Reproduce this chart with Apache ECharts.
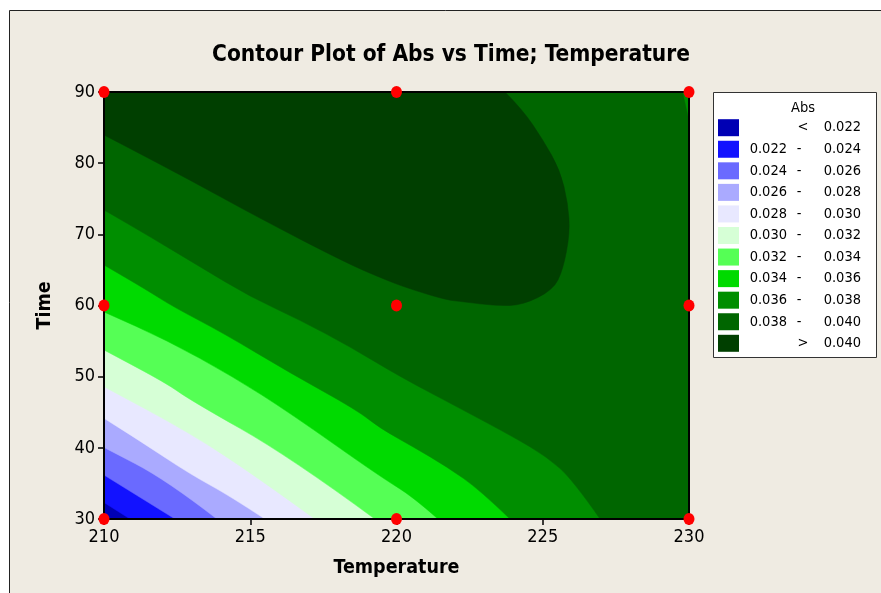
<!DOCTYPE html>
<html>
<head>
<meta charset="utf-8">
<script src="https://cdn.jsdelivr.net/npm/echarts@6/dist/echarts.min.js"></script>
<style>
  html, body { margin: 0; padding: 0; background: #ffffff; }
  #chart { width: 881px; height: 593px; }
</style>
</head>
<body>
<div id="chart"></div>
<script>
// Design points of the experiment (Temperature, Time)
const designTemperature = [210, 210, 210, 220, 220, 220, 230, 230, 230];
const designTime = [30, 60, 90, 30, 60, 90, 30, 60, 90];

// Contour levels of Abs and the fill colour of each band (lowest first)
const levels = [0.022, 0.024, 0.026, 0.028, 0.030, 0.032, 0.034, 0.036, 0.038, 0.040];
const bandColors = ['#0000B4', '#1212FF', '#6A6AFF', '#AAAAFF', '#E8E8FF', '#D6FFD6',
                    '#55FF55', '#00DA00', '#008E00', '#006600', '#003F00'];

// Contour lines, [Temperature, Time], running from the left edge to the bottom edge
const contour022 = [[210, 32.32], [210.89, 30]];
const contour024 = [[210, 36.18], [212.43, 30]];
const contour026 = [[210, 40.06], [212.14, 35.48], [213.86, 30]];
const contour028 = [[210, 44.15], [211.23, 40.96], [212.94, 36.32], [214.31, 33.23], [215.50, 30]];
const contour030 = [[210, 48.59], [212.94, 42.08], [215.22, 35.94], [217.21, 30]];
const contour032 = [[210, 53.75], [212.14, 49.07], [212.94, 46.72], [216.36, 38.75], [219.26, 30]];
const contour034 = [[210, 59.09], [212.14, 55.15], [214.41, 50.00], [216.36, 44.89],
                    [219.44, 35.95], [220.56, 33.14], [221.42, 30]];
const contour036 = [[210, 65.69], [211.46, 62.18], [212.36, 59.83], [214.07, 56.14], [216.36, 50.52],
                    [218.64, 45.32], [219.44, 42.74], [220.56, 40.16], [221.72, 37.35],
                    [222.85, 34.08], [223.88, 30]];
const contour038 = [[210, 73.42], [211.57, 69.67], [213.28, 65.45], [214.99, 61.24], [216.70, 57.96],
                    [218.41, 54.21], [220.12, 49.99], [222.27, 45.32], [223.98, 41.56],
                    [225.14, 38.75], [226.03, 35.48], [226.96, 30]];
// 0.038 line again cutting the top-right corner (right edge to top edge)
const contour038Corner = [[230, 85.93], [229.78, 90]];
// 0.040 line: from the left edge round the ridge to the top edge
const contour040 = [[210, 83.96], [210.66, 82.55], [212.94, 77.63], [215.22, 72.48], [218.30, 65.93],
                    [219.78, 63.34], [220.57, 62.18], [221.72, 60.77], [222.27, 60.53], [223.43, 59.93],
                    [224.32, 60.07], [225.35, 62.18], [225.69, 64.99], [225.93, 70.19], [225.86, 74.40],
                    [225.59, 79.04], [225.01, 83.26], [224.32, 87.47], [223.71, 90]];

// Corners of the plotted domain
const tMin = 210, tMax = 230, timeMin = 30, timeMax = 90;

// Each region where Abs exceeds a level: a smoothed contour part, then straight edge parts
const upperSide = [[tMax, timeMin], [tMax, timeMax], [tMin, timeMax]];
const regions = [
  { curve: [[tMin, timeMin]], edges: [[tMax, timeMin], [tMax, timeMax], [tMin, timeMax]] },
  { curve: contour022, edges: upperSide },
  { curve: contour024, edges: upperSide },
  { curve: contour026, edges: upperSide },
  { curve: contour028, edges: upperSide },
  { curve: contour030, edges: upperSide },
  { curve: contour032, edges: upperSide },
  { curve: contour034, edges: upperSide },
  { curve: contour036, edges: upperSide },
  { curve: contour038, edges: [[tMax, timeMin]].concat(contour038Corner, [[tMin, timeMax]]) },
  { curve: contour040, edges: [[tMin, timeMax]] }
];

// Quadratic smoothing through the midpoints of a polyline, endpoints kept exact
function smoothPath(pts) {
  let d = 'M' + pts[0][0] + ' ' + pts[0][1];
  if (pts.length === 1) return d;
  if (pts.length === 2) return d + 'L' + pts[1][0] + ' ' + pts[1][1];
  const mid = (a, b) => [(a[0] + b[0]) / 2, (a[1] + b[1]) / 2];
  let m = mid(pts[0], pts[1]);
  d += 'L' + m[0] + ' ' + m[1];
  for (let i = 1; i < pts.length - 1; i++) {
    const n = (i === pts.length - 2) ? pts[i + 1] : mid(pts[i], pts[i + 1]);
    d += 'Q' + pts[i][0] + ' ' + pts[i][1] + ' ' + n[0] + ' ' + n[1];
  }
  return d;
}

const FONT = "'DejaVu Sans Condensed', 'DejaVu Sans', sans-serif";

// Legend labels built from the level list
function fmt(v) { return v.toFixed(3); }
const legendRows = bandColors.map((c, k) => {
  if (k === 0) return { color: c, lo: '', sep: '<', hi: fmt(levels[0]) };
  if (k === bandColors.length - 1) return { color: c, lo: '', sep: '>', hi: fmt(levels[levels.length - 1]) };
  return { color: c, lo: fmt(levels[k - 1]), sep: '-', hi: fmt(levels[k]) };
});

const legendFont = '14.5px ' + FONT;
const legendChildren = [
  { type: 'rect', shape: { x: 713.5, y: 92.5, width: 163, height: 265 },
    style: { fill: '#ffffff', stroke: '#333333', lineWidth: 1 } },
  { type: 'text', style: { x: 803, y: 108, text: 'Abs', font: legendFont, fill: '#000',
    align: 'center', verticalAlign: 'middle' } }
];
legendRows.forEach((r, i) => {
  const cy = 127.7 + i * 21.56;
  legendChildren.push({ type: 'rect', shape: { x: 718, y: cy - 8.5, width: 21, height: 17 },
    style: { fill: r.color } });
  if (r.lo) legendChildren.push({ type: 'text', style: { x: 787, y: cy, text: r.lo,
    font: legendFont, fill: '#000', align: 'right', verticalAlign: 'middle' } });
  legendChildren.push({ type: 'text', style: { x: r.lo ? 799 : 803, y: cy, text: r.sep,
    font: legendFont, fill: '#000', align: 'center', verticalAlign: 'middle' } });
  legendChildren.push({ type: 'text', style: { x: 861, y: cy, text: r.hi,
    font: legendFont, fill: '#000', align: 'right', verticalAlign: 'middle' } });
});

const axisLineStyle = { color: '#000', width: 2 };
const labelStyle = { fontSize: 18, color: '#000', fontFamily: FONT };
const nameStyle = { fontSize: 19.5, fontWeight: 'bold', color: '#000', fontFamily: FONT };

const chart = echarts.init(document.getElementById('chart'), null, { renderer: 'canvas' });
chart.setOption({
  animation: false,
  backgroundColor: '#ffffff',
  graphic: [
    { type: 'rect', z: -10, silent: true,
      shape: { x: 9.5, y: 10.5, width: 900, height: 620 },
      style: { fill: '#EFEBE2', stroke: '#222222', lineWidth: 1 } },
    { type: 'text', z: 5, style: { x: 451, y: 55, text: 'Contour Plot of Abs vs Time; Temperature',
      font: 'bold 22.5px ' + FONT, fill: '#000', align: 'center', verticalAlign: 'middle' } },
    { type: 'group', z: 5, children: legendChildren }
  ],
  grid: { left: 104, top: 92, right: 192, bottom: 74, show: false },
  xAxis: [
    { type: 'value', min: tMin, max: tMax, interval: 5, position: 'bottom', z: 10,
      name: 'Temperature', nameLocation: 'middle', nameGap: 39, nameTextStyle: nameStyle,
      axisLine: { show: true, lineStyle: axisLineStyle },
      axisTick: { show: true, length: 6, lineStyle: { color: '#000', width: 1.5 } },
      axisLabel: Object.assign({ margin: 9 }, labelStyle),
      splitLine: { show: false } },
    { type: 'value', min: tMin, max: tMax, position: 'top', z: 10,
      axisLine: { show: true, onZero: false, lineStyle: axisLineStyle },
      axisTick: { show: false }, axisLabel: { show: false }, splitLine: { show: false } }
  ],
  yAxis: [
    { type: 'value', min: timeMin, max: timeMax, interval: 10, position: 'left', z: 10,
      name: 'Time', nameLocation: 'middle', nameGap: 49, nameRotate: 90, nameTextStyle: nameStyle,
      axisLine: { show: true, onZero: false, lineStyle: axisLineStyle },
      axisTick: { show: true, length: 6, lineStyle: { color: '#000', width: 1.5 } },
      axisLabel: Object.assign({ margin: 9 }, labelStyle),
      splitLine: { show: false } },
    { type: 'value', min: timeMin, max: timeMax, position: 'right', z: 10,
      axisLine: { show: true, onZero: false, lineStyle: axisLineStyle },
      axisTick: { show: false }, axisLabel: { show: false }, splitLine: { show: false } }
  ],
  series: [
    {
      type: 'custom',
      xAxisIndex: 0, yAxisIndex: 0,
      silent: true,
      z: 2,
      data: regions.map((r, k) => [tMin, timeMin, k]),
      encode: { x: 0, y: 1 },
      renderItem: function (params, api) {
        const k = api.value(2);
        const reg = regions[k];
        const curve = reg.curve.map(p => api.coord(p));
        let d = smoothPath(curve);
        reg.edges.forEach(p => { const c = api.coord(p); d += 'L' + c[0] + ' ' + c[1]; });
        d += 'Z';
        return { type: 'path', shape: { pathData: d },
                 style: { fill: bandColors[k], stroke: bandColors[k], lineWidth: 0.5 } };
      }
    },
    {
      type: 'scatter',
      xAxisIndex: 0, yAxisIndex: 0,
      z: 20,
      clip: false,
      symbol: 'circle',
      symbolSize: [11, 12],
      itemStyle: { color: '#FF0000', opacity: 1 },
      data: designTemperature.map((t, i) => [t, designTime[i]])
    }
  ]
});
</script>
</body>
</html>
